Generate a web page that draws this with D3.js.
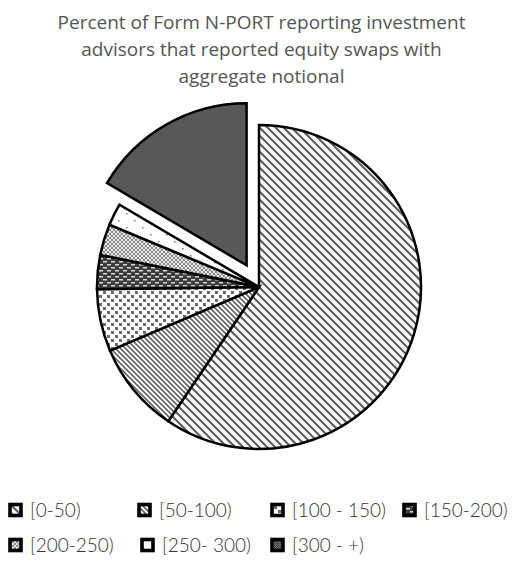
<!DOCTYPE html>
<html>
<head>
<meta charset="utf-8">
<script src="https://cdn.jsdelivr.net/npm/d3@7"></script>
<style>
  body { margin: 0; background: #fff; }
  svg { display: block; }
</style>
</head>
<body>
<svg id="chart" width="523" height="567"></svg>
<script>
// data (percent of advisors per notional bucket)
const titleLines = ["Percent of Form N-PORT reporting investment",
                    "advisors that reported equity swaps with",
                    "aggregate notional"]
const buckets = ["[0-50)", "[50-100)", "[100 - 150)", "[150-200)",
                 "[200-250)", "[250- 300)", "[300 - +)"]
const shares  = [59.4, 9.1, 6.2, 3.4, 3.1, 2.2, 16.5]
const exploded = ["[300 - +)"]

const svg = d3.select("#chart")
const width = +svg.attr("width")

const cx = 259, cy = 287, radius = 162, pull = 25

//
// fill patterns (black & white print look)
//
const defs = svg.append("defs")

function pattern(id, w, h, bg) {
  const p = defs.append("pattern")
      .attr("id", id)
      .attr("patternUnits", "userSpaceOnUse")
      .attr("width", w).attr("height", h)
  p.append("rect").attr("width", w).attr("height", h).attr("fill", bg)
  return p
}

// wide downward diagonal
let p = pattern("p0", 8, 8, "#fff")
p.append("path").attr("d", "M-2,-2L10,10M-2,6L2,10M6,-2L10,2")
    .attr("stroke", "#5e5e5e").attr("stroke-width", 2.2)

// narrow downward diagonal
p = pattern("p1", 5, 5, "#fff")
p.append("path").attr("d", "M-1,-1L6,6M-1,4L1,6M4,-1L6,1")
    .attr("stroke", "#666").attr("stroke-width", 1.7)

// small squares on white
p = pattern("p2", 8, 8, "#fff")
p.append("rect").attr("x", 0).attr("y", 0).attr("width", 3).attr("height", 3).attr("fill", "#6a6a6a")
p.append("rect").attr("x", 4).attr("y", 4).attr("width", 3).attr("height", 3).attr("fill", "#6a6a6a")

// dark with white dashes
p = pattern("p3", 8, 6, "#3c3c3c")
p.append("rect").attr("x", 0).attr("y", 1).attr("width", 4).attr("height", 1.5).attr("fill", "#d8d8d8")
p.append("rect").attr("x", 4).attr("y", 4).attr("width", 4).attr("height", 1.5).attr("fill", "#d8d8d8")

// light checker
p = pattern("p4", 4, 4, "#e8e8e8")
p.append("rect").attr("width", 2).attr("height", 2).attr("fill", "#8a8a8a")
p.append("rect").attr("x", 2).attr("y", 2).attr("width", 2).attr("height", 2).attr("fill", "#8a8a8a")

// sparse dots
p = pattern("p5", 16, 14, "#fff")
p.append("rect").attr("x", 3).attr("y", 3).attr("width", 1.5).attr("height", 1.5).attr("fill", "#777")
p.append("rect").attr("x", 11).attr("y", 10).attr("width", 1.5).attr("height", 1.5).attr("fill", "#777")

// dense dark dots
p = pattern("p6", 2, 2, "#6e6e6e")
p.append("rect").attr("width", 1).attr("height", 1).attr("fill", "#3a3a3a")
p.append("rect").attr("x", 1).attr("y", 1).attr("width", 1).attr("height", 1).attr("fill", "#4a4a4a")

const fill = d3.scaleOrdinal()
    .domain(buckets)
    .range(buckets.map((b, i) => "url(#p" + i + ")"))

//
// title
//
svg.append("g")
    .selectAll("text")
    .data(titleLines)
    .enter().append("text")
      .attr("x", width / 2)
      .attr("y", (d, i) => 29 + i * 27)
      .attr("text-anchor", "middle")
      .attr("font-family", "Open Sans, sans-serif")
      .attr("font-size", 19)
      .attr("fill", "#555")
      .text(d => d)

//
// pie
//
const pie = d3.pie().sort(null).value(d => d.value)
const arc = d3.arc().innerRadius(0).outerRadius(radius)

const slices = pie(buckets.map((b, i) => ({ name: b, value: shares[i] })))

svg.append("g")
    .attr("transform", `translate(${cx},${cy})`)
  .selectAll("path")
  .data(slices)
  .enter().append("path")
    .attr("d", arc)
    .attr("transform", d => {
      if (!exploded.includes(d.data.name)) return null
      const a = (d.startAngle + d.endAngle) / 2
      return `translate(${Math.sin(a) * pull},${-Math.cos(a) * pull})`
    })
    .attr("fill", d => fill(d.data.name))
    .attr("stroke", "#000")
    .attr("stroke-width", 2.5)
    .attr("stroke-linejoin", "miter")

//
// legend
//
const legendX = [8, 137, 270, 402, 8, 140, 270]
const legendY = [510, 510, 510, 510, 545, 545, 545]

const item = svg.append("g")
  .selectAll("g")
  .data(buckets)
  .enter().append("g")
    .attr("transform", (d, i) => `translate(${legendX[i]},${legendY[i]})`)

item.append("rect")
    .attr("x", 2).attr("y", -5.5)
    .attr("width", 11).attr("height", 11)
    .attr("fill", d => fill(d))
    .attr("stroke", "#000")
    .attr("stroke-width", 3.6)

item.append("text")
    .attr("x", 22)
    .attr("y", 6.5)
    .attr("font-family", "Lato, sans-serif")
    .attr("font-size", 19)
    .attr("font-weight", 300)
    .attr("fill", "#333")
    .text(d => d)
</script>
</body>
</html>
